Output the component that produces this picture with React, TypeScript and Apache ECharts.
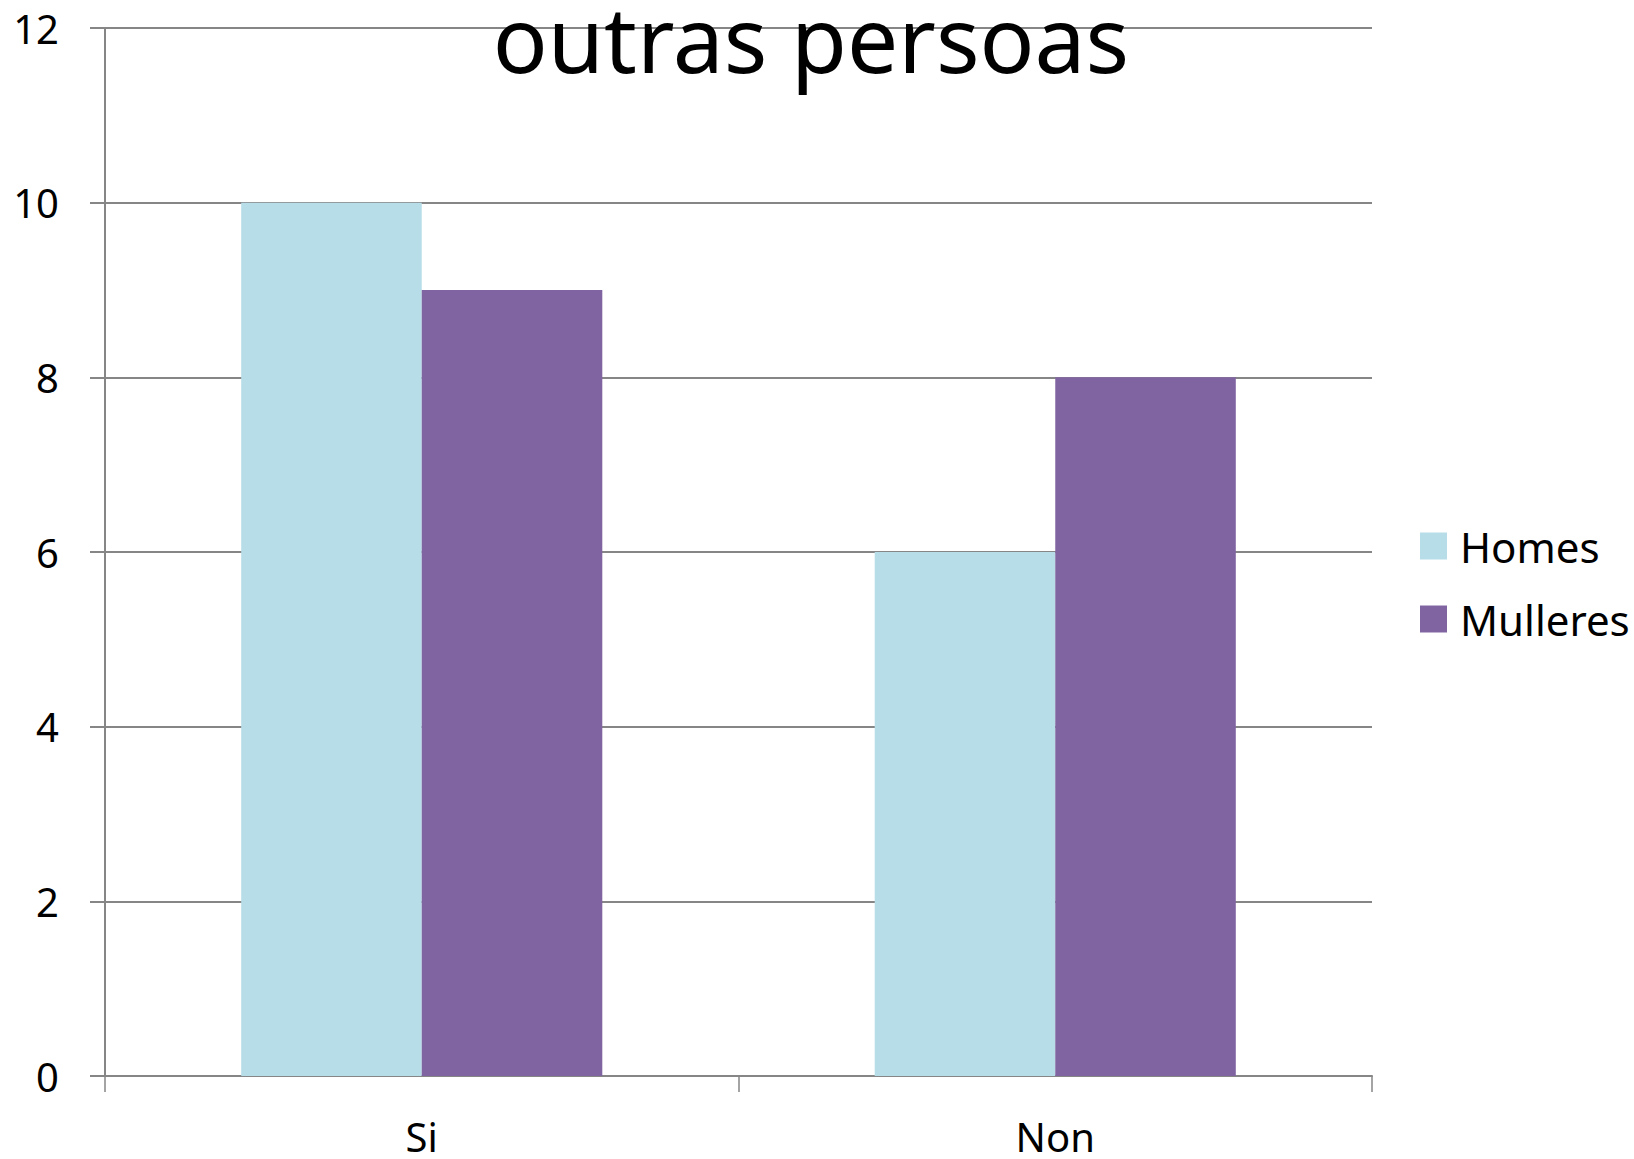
import React, { useEffect, useRef } from "react";
import * as echarts from "echarts";

const titleText = "outras persoas";
const categories = ["Si", "Non"];
const seriesNames = ["Homes", "Mulleres"];
const homesValues = [10, 6];
const mulleresValues = [9, 8];
const colors = ["#B7DDE8", "#8064A2"];
const FONT = "Noto Sans";

export default function App() {
  const ref = useRef<HTMLDivElement>(null);
  useEffect(() => {
    if (!ref.current) return;
    const chart = echarts.init(ref.current, null, { renderer: "svg" });
    chart.setOption({
      animation: false,
      backgroundColor: "#ffffff",
      title: {
        text: titleText,
        left: 811,
        top: 3,
        textAlign: "center",
        padding: 0,
        textStyle: { fontFamily: FONT, fontSize: 91, lineHeight: 70, fontWeight: "normal", color: "#000" },
      },
      legend: {
        orient: "vertical",
        left: 1420,
        top: 525,
        itemWidth: 27,
        itemHeight: 27,
        itemGap: 31,
        icon: "rect",
        padding: 0,
        textStyle: { fontFamily: FONT, fontSize: 42, color: "#000", lineHeight: 40, padding: [0, 0, 0, 8] },
        data: seriesNames,
      },
      grid: { left: 105, right: 262, top: 28, bottom: 83, containLabel: false },
      xAxis: {
        type: "category",
        data: categories,
        axisLine: { show: true, lineStyle: { color: "#868686", width: 2 } },
        axisTick: { show: true, length: 16, lineStyle: { color: "#868686", width: 1.5 } },
        axisLabel: { fontFamily: FONT, fontSize: 40, color: "#000", margin: 40 },
      },
      yAxis: {
        type: "value",
        min: 0,
        max: 12,
        interval: 2,
        axisLine: { show: true, lineStyle: { color: "#868686", width: 2 } },
        axisTick: { show: true, length: 15, lineStyle: { color: "#868686", width: 2 } },
        splitLine: { show: true, lineStyle: { color: "#868686", width: 2 } },
        axisLabel: { fontFamily: FONT, fontSize: 40, color: "#000", margin: 46 },
      },
      series: [
        {
          name: seriesNames[0],
          type: "bar",
          data: homesValues,
          itemStyle: { color: colors[0] },
          barGap: "0%",
          barCategoryGap: "43%",
        },
        {
          name: seriesNames[1],
          type: "bar",
          data: mulleresValues,
          itemStyle: { color: colors[1] },
          barGap: "0%",
          barCategoryGap: "43%",
        },
      ],
    });
    return () => chart.dispose();
  }, []);
  return (
    <div
      ref={ref}
      style={{ position: "absolute", left: 0, top: 0, width: 1634, height: 1159 }}
    />
  );
}
